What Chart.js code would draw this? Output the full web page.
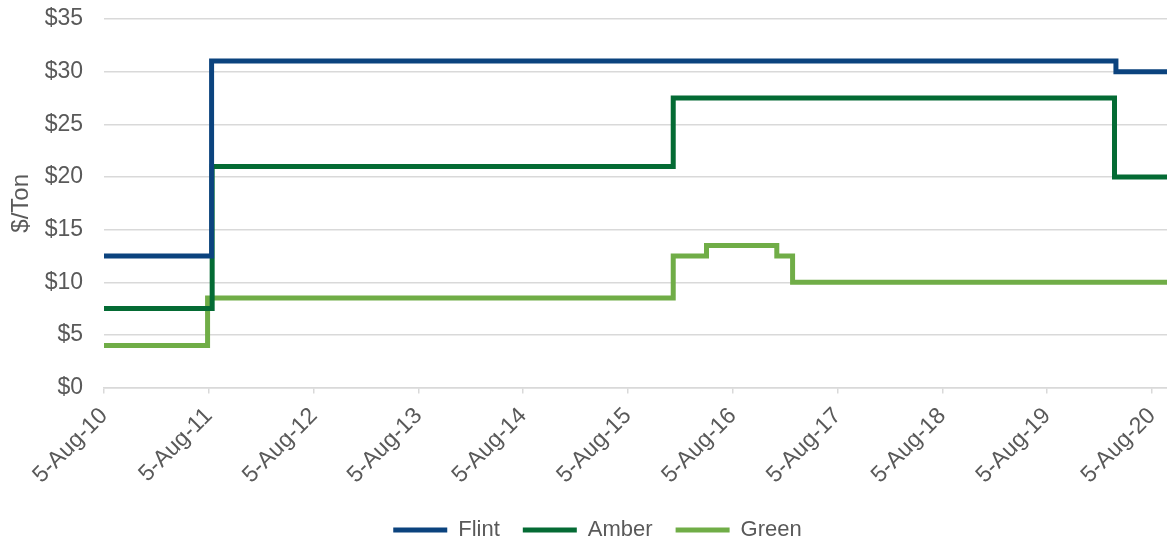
<!DOCTYPE html>
<html>
<head>
<meta charset="utf-8">
<script src="https://cdn.jsdelivr.net/npm/chart.js@4"></script>
<style>
  html, body { margin: 0; padding: 0; background: #fff; }
  #wrap { width: 1167px; height: 541px; }
</style>
</head>
<body>
<div id="wrap"><canvas id="myChart"></canvas></div>
<script>
// axis ticks
const tickDates = ['2010-08-05', '2011-08-05', '2012-08-05', '2013-08-05', '2014-08-05', '2015-08-05',
  '2016-08-05', '2017-08-05', '2018-08-05', '2019-08-05', '2020-08-05']
const tickLabels = ['5-Aug-10', '5-Aug-11', '5-Aug-12', '5-Aug-13', '5-Aug-14', '5-Aug-15',
  '5-Aug-16', '5-Aug-17', '5-Aug-18', '5-Aug-19', '5-Aug-20']
const endDate = '2020-09-26'

// each point = date a price starts, last point holds the price to the end
const flintDates = ['2010-08-05', '2011-08-15', '2020-04-01', endDate]
const flintValues = [12.5, 31, 30, 30]
const amberDates = ['2010-08-05', '2011-08-17', '2016-01-10', '2020-03-27', endDate]
const amberValues = [7.5, 21, 27.5, 20, 20]
const greenDates = ['2010-08-05', '2011-08-01', '2016-01-10', '2016-05-05', '2017-01-05', '2017-03-01', endDate]
const greenValues = [4, 8.5, 12.5, 13.5, 12.5, 10, 10]

const base = Date.parse(tickDates[0])
const day = d => (Date.parse(d) - base) / 86400000
const pts = (dates, vals) => dates.map((d, i) => ({ x: day(d), y: vals[i] }))

const txt = '#595959'
const grid = '#d9d9d9'
const font = 'Liberation Sans, Arial, sans-serif'

const line = (label, color, dates, vals) => ({
  label,
  data: pts(dates, vals),
  stepped: 'before',
  borderColor: color,
  backgroundColor: color,
  borderWidth: 5,
  borderCapStyle: 'round',
  pointRadius: 0,
  fill: false
})

// legend sits a bit right of centre in the original
const legendShift = {
  id: 'legendShift',
  afterLayout (chart) {
    const l = chart.legend
    l.left += 14
    l.right += 14
    l.top -= 2
    l.bottom -= 2
  }
}

const ctx = document.getElementById('myChart')
new Chart(ctx, {
  type: 'line',
  data: {
    datasets: [
      line('Flint', '#0b437e', flintDates, flintValues),
      line('Amber', '#046b34', amberDates, amberValues),
      line('Green', '#70ad47', greenDates, greenValues)
    ]
  },
  options: {
    responsive: true,
    maintainAspectRatio: false,
    animation: false,
    layout: { autoPadding: false, padding: { top: 19, right: 0, left: 0, bottom: -12 } },
    scales: {
      x: {
        type: 'linear',
        min: day(tickDates[0]),
        max: day(endDate),
        afterBuildTicks: scale => {
          scale.ticks = tickDates.map(d => ({ value: day(d) }))
        },
        afterFit: scale => {
          scale.paddingLeft = 0
          scale.paddingRight = 0
        },
        ticks: {
          autoSkip: false,
          maxRotation: 45,
          minRotation: 45,
          color: txt,
          font: { family: font, size: 23 },
          padding: 9,
          callback: (v, i) => tickLabels[i]
        },
        grid: { drawOnChartArea: false, drawTicks: true, tickLength: 6, color: grid, lineWidth: 1.5 },
        border: { display: true, color: grid, width: 1.5 }
      },
      y: {
        min: 0,
        max: 35,
        afterFit: scale => {
          scale.width = 104
        },
        ticks: {
          stepSize: 5,
          color: txt,
          font: { family: font, size: 23 },
          padding: 0,
          callback: v => '$' + v
        },
        // invisible tick marks make the gap between labels and plot
        grid: { color: grid, lineWidth: 1.5, drawTicks: true, tickLength: 21, tickColor: 'rgba(0,0,0,0)' },
        border: { display: false },
        title: {
          display: true,
          text: '$/Ton',
          color: txt,
          font: { family: font, size: 24 },
          padding: { top: 7, bottom: 8 }
        }
      }
    },
    plugins: {
      legend: {
        position: 'bottom',
        labels: {
          color: txt,
          font: { family: font, size: 22 },
          usePointStyle: true,
          pointStyle: 'line',
          pointStyleWidth: 54,
          boxHeight: 5,
          padding: 23
        }
      },
      tooltip: { enabled: false }
    }
  },
  plugins: [legendShift]
})
</script>
</body>
</html>
